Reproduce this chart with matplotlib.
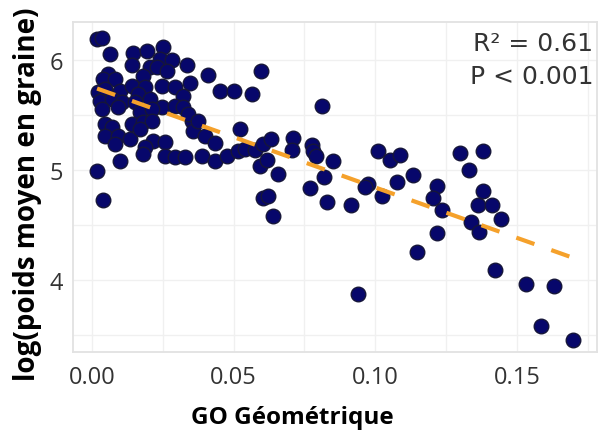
import numpy as np
import matplotlib
matplotlib.use("Agg")
import matplotlib.pyplot as plt
from matplotlib.ticker import MultipleLocator

# GO Géométrique (x) and log(poids moyen en graine) (y)
go_geo = [
    0.0018, 0.0035, 0.0064, 0.0145, 0.0194, 0.0251, 0.0141, 0.0205, 0.0240, 0.0282,
    0.0230, 0.0265, 0.0335, 0.0056, 0.0039, 0.0081, 0.0180, 0.0247, 0.0293, 0.0346,
    0.0021, 0.0046, 0.0099, 0.0141, 0.0187, 0.0162, 0.0321, 0.0028, 0.0071, 0.0106,
    0.0152, 0.0205, 0.0247, 0.0293, 0.0321, 0.0035, 0.0092, 0.0169, 0.0212, 0.0353,
    0.0339, 0.0046, 0.0071, 0.0141, 0.0180, 0.0212, 0.0046, 0.0092, 0.0134, 0.0169,
    0.0081, 0.0215, 0.0258, 0.0187, 0.0180, 0.0258, 0.0293, 0.0328, 0.0099, 0.0018,
    0.0039, 0.0357, 0.0374, 0.0399, 0.0434, 0.0388, 0.0434, 0.0477, 0.0410, 0.0452,
    0.0501, 0.0565, 0.0597, 0.0523, 0.0516, 0.0540, 0.0576, 0.0604, 0.0632, 0.0593,
    0.0618, 0.0657, 0.0710, 0.0706, 0.0777, 0.0780, 0.0791, 0.0812, 0.0819, 0.0770,
    0.0604, 0.0621, 0.0639, 0.0830, 0.0851, 0.0915, 0.1010, 0.1052, 0.1088, 0.1133,
    0.1077, 0.0975, 0.0964, 0.1024, 0.1218, 0.1204, 0.1236, 0.1218, 0.1148, 0.0939,
    0.1299, 0.1381, 0.1331, 0.1381, 0.1363, 0.1412, 0.1444, 0.1338, 0.1367, 0.1423,
    0.1532, 0.1631, 0.1585, 0.1698,
]
log_poids = [
    6.191, 6.200, 6.055, 6.064, 6.082, 6.118, 5.955, 5.936, 6.009, 6.000,
    5.936, 5.900, 5.955, 5.873, 5.827, 5.827, 5.855, 5.764, 5.755, 5.791,
    5.709, 5.736, 5.718, 5.764, 5.755, 5.691, 5.673, 5.627, 5.645, 5.618,
    5.618, 5.645, 5.573, 5.582, 5.573, 5.555, 5.573, 5.527, 5.555, 5.445,
    5.509, 5.418, 5.391, 5.418, 5.436, 5.445, 5.309, 5.309, 5.282, 5.373,
    5.236, 5.264, 5.255, 5.209, 5.145, 5.127, 5.118, 5.118, 5.082, 4.991,
    4.727, 5.355, 5.445, 5.309, 5.245, 5.127, 5.082, 5.127, 5.864, 5.718,
    5.718, 5.691, 5.900, 5.373, 5.173, 5.191, 5.182, 5.236, 5.282, 5.036,
    5.091, 4.964, 5.291, 5.182, 5.227, 5.173, 5.127, 5.582, 4.936, 4.836,
    4.745, 4.764, 4.582, 4.709, 5.082, 4.682, 5.173, 5.091, 5.136, 4.955,
    4.891, 4.873, 4.845, 4.764, 4.855, 4.745, 4.636, 4.427, 4.255, 3.873,
    5.155, 5.173, 5.000, 4.809, 4.682, 4.682, 4.555, 4.527, 4.436, 4.091,
    3.964, 3.945, 3.582, 3.455,
]
x_ticks = [0.00, 0.05, 0.10, 0.15]
x_tick_labels = ["0.00", "0.05", "0.10", "0.15"]
y_ticks = [4, 5, 6]
annot_lines = ["R² = 0.61", "P < 0.001"]

plt.rcParams['font.family'] = ['Open Sans', 'DejaVu Sans']

x = np.array(go_geo)
y = np.array(log_poids)

fig = plt.figure(figsize=(5.99, 4.35), dpi=100)
ax = fig.add_axes([73/599, 1-353/435, (597-73)/599, (353-23)/435])

grid_c = '#f0f0f0'
ax.set_xlim(-0.0067, 0.1783)
ax.set_ylim(3.345, 6.345)
ax.xaxis.set_minor_locator(MultipleLocator(0.025))
ax.yaxis.set_minor_locator(MultipleLocator(0.5))
ax.set_xticks(x_ticks)
ax.set_xticklabels(x_tick_labels)
ax.set_yticks(y_ticks)
ax.grid(True, which='both', color=grid_c, linewidth=1.0, zorder=0)
ax.set_axisbelow(True)
ax.tick_params(which='both', length=0)
ax.tick_params(axis='x', pad=9, labelsize=17, labelcolor='#333333')
ax.tick_params(axis='y', pad=7, labelsize=17, labelcolor='#333333')
for s in ax.spines.values():
    s.set_color('#e2e2e2')
    s.set_linewidth(1.3)

ax.scatter(x, y, s=110, facecolor='#07076b', edgecolor='#16163a',
           linewidth=1.0, zorder=3)

slope, intercept = np.polyfit(x, y, 1)
xl = np.array([x.min(), x.max()])
ax.plot(xl, intercept + slope * xl, color='#F5A12B', linewidth=3.0,
        dashes=(4.6, 4.3), zorder=4)

ax.text(0.993, 0.936, annot_lines[0], transform=ax.transAxes, ha='right',
        va='center', fontsize=18, color='#333333', family='DejaVu Sans')
ax.text(0.993, 0.836, annot_lines[1], transform=ax.transAxes, ha='right',
        va='center', fontsize=18, color='#333333', family='DejaVu Sans')

ax.set_xlabel('GO Géométrique', fontsize=17.5, fontweight='bold',
              color='black', va='center')
ax.set_ylabel('log(poids moyen en graine)', fontsize=20, fontweight='bold',
              color='black', va='center')
ax.xaxis.set_label_coords((292-73)/524, -(418-353)/330)
ax.yaxis.set_label_coords(-(73-27)/524, (353-194)/330)

fig.savefig('out.png', dpi=100)
